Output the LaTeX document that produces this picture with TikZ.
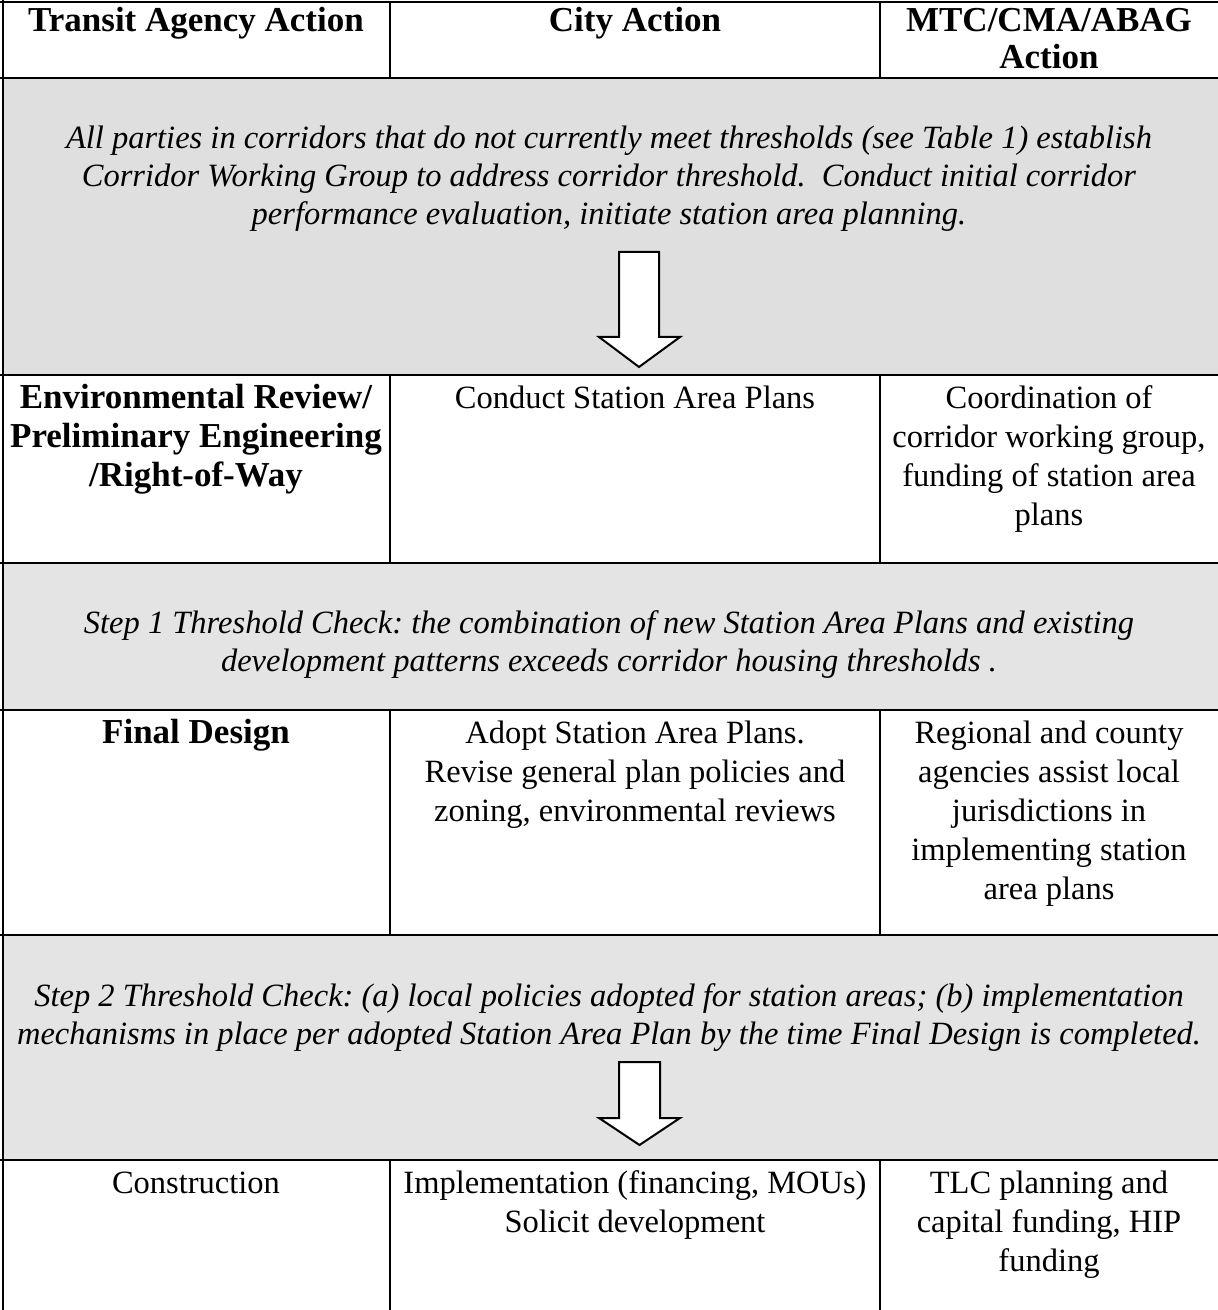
\documentclass[tikz,border=0pt]{standalone}
\usepackage{fontspec}
\setmainfont{Liberation Serif}
\definecolor{greyA}{HTML}{DFDFDF}
\definecolor{greyB}{HTML}{E4E4E4}
\begin{document}
\frenchspacing
\begin{tikzpicture}[x=0.5pt,y=-0.5pt,
  reg/.style={anchor=north, inner sep=0pt, align=center, font=\fontsize{16.25}{19.5}\selectfont},
  hdr/.style={reg, font=\fontsize{17.5}{19.5}\selectfont\bfseries},
  toph/.style={reg, font=\fontsize{17.5}{18.5}\selectfont\bfseries},
  itl/.style={reg, font=\fontsize{16.25}{19}\selectfont\itshape},
  rule/.style={line width=1.3pt},
  blockarrow/.style={draw=black, line width=1pt, fill=white, line join=miter}]
\useasboundingbox (0,0) rectangle (1217,1310);
% grey bands
\fill[greyA] (3,78) rectangle (1218,375);
\fill[greyB] (3,563) rectangle (1218,710);
\fill[greyB] (3,935) rectangle (1218,1160);
% horizontal rules
\foreach \yy in {2,78,375,563,710,935,1160} {\draw[rule] (0,\yy) -- (1218,\yy);}
% outer left
\draw[rule] (3,0) -- (3,1312);
% column rules in white rows
\foreach \ya/\yb in {2/78,375/563,710/935,1160/1312} {
  \draw[rule] (390,\ya) -- (390,\yb);
  \draw[rule] (880,\ya) -- (880,\yb);
}
% header
\node[toph] (h1) at (196,5) {\strut Transit Agency Action};
\node[toph] (h2) at (635,5) {\strut City Action};
\node[toph] (h3) at (1049,5) {\strut MTC/CMA/ABAG\\Action};
% grey band 1
\node[itl] (g1) at (609,122) {\strut All parties in corridors that do not currently meet thresholds (see Table 1) establish\\Corridor Working Group to address corridor threshold.\ \ Conduct initial corridor\\performance evaluation, initiate station area planning.};
\draw[blockarrow] (619,252) -- (659,252) -- (659,337) -- (680,337) -- (639,367) -- (599,337) -- (619,337) -- cycle;
% row 2
\node[hdr] (r2a) at (196,381) {\strut Environmental Review/\\Preliminary Engineering\\/Right-of-Way};
\node[reg] (r2b) at (635,381) {\strut Conduct Station Area Plans};
\node[reg] (r2c) at (1049,381) {\strut Coordination of\\corridor working group,\\funding of station area\\plans};
% step 1
\node[itl] (s1) at (609,606) {\strut Step 1 Threshold Check: the combination of new Station Area Plans and existing\\development patterns exceeds corridor housing thresholds .};
% row 4
\node[hdr] (r4a) at (196,716) {\strut Final Design};
\node[reg] (r4b) at (635,716) {\strut Adopt Station Area Plans.\\Revise general plan policies and\\zoning, environmental reviews};
\node[reg] (r4c) at (1049,716) {\strut Regional and county\\agencies assist local\\jurisdictions in\\implementing station\\area plans};
% step 2
\node[itl] (s2) at (609,979) {\strut Step 2 Threshold Check: (a) local policies adopted for station areas; (b) implementation\\mechanisms in place per adopted Station Area Plan by the time Final Design is completed.};
\draw[blockarrow] (619,1062) -- (660,1062) -- (660,1118) -- (680,1118) -- (639.5,1145) -- (599,1118) -- (619,1118) -- cycle;
% row 6
\node[reg] (r6a) at (196,1166) {\strut Construction};
\node[reg] (r6b) at (635,1166) {\strut Implementation (financing, MOUs)\\Solicit development};
\node[reg] (r6c) at (1049,1166) {\strut TLC planning and\\capital funding, HIP\\funding};
\end{tikzpicture}
\end{document}
